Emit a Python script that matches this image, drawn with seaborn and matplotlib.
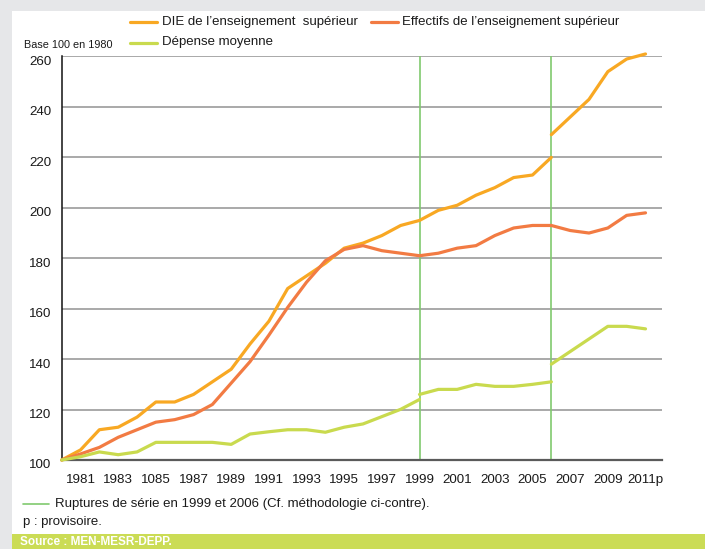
import matplotlib
matplotlib.use("Agg")
import matplotlib.pyplot as plt
from matplotlib.lines import Line2D
from matplotlib.patches import Rectangle
from matplotlib.transforms import ScaledTranslation
import seaborn as sns
import pandas as pd

# ---------------- data ----------------
years_die_1 = list(range(1980, 2007))
die_1 = [100, 104, 112, 113, 117, 123, 123, 126, 131, 136, 146, 155, 168, 173,
         178, 184, 186, 189, 193, 195, 199, 201, 205, 208, 212, 213, 220]
years_die_2 = list(range(2006, 2012))
die_2 = [229, 236, 243, 254, 259, 261]

years_eff = list(range(1980, 2012))
eff = [100, 102.4, 105, 109, 112, 115, 116, 118, 122, 130.5, 139, 149.5, 160.5,
       170.5, 179, 183.5, 185, 183, 182, 181, 182, 184, 185, 189, 192, 193, 193,
       191, 190, 192, 197, 198]

years_dep_1 = list(range(1980, 2000))
dep_1 = [100, 101.3, 103.2, 102.1, 103.2, 107, 107, 107, 107, 106.2, 110.3,
         111.2, 112, 112, 111, 113, 114.3, 117.2, 120.1, 124]
years_dep_2 = list(range(1999, 2007))
dep_2 = [126, 128, 128, 130, 129.2, 129.2, 130, 131]
years_dep_3 = list(range(2006, 2012))
dep_3 = [138, 143, 148, 153, 153, 152]

breaks = [1999, 2006]
tick_years = list(range(1981, 2012))
tick_labels = ["1981", "", "1983", "", "1085", "", "1987", "", "1989", "",
               "1991", "", "1993", "", "1995", "", "1997", "", "1999", "",
               "2001", "", "2003", "", "2005", "", "2007", "", "2009", "",
               "2011p"]
yticks = [100, 120, 140, 160, 180, 200, 220, 240, 260]

lab_die = "DIE de l\u2019enseignement  supérieur"
lab_eff = "Effectifs de l\u2019enseignement supérieur"
lab_dep = "Dépense moyenne"

# ---------------- frame ----------------
rows = []
def add(series, seg, ys, vs):
    for y, v in zip(ys, vs):
        rows.append({"year": y, "value": v, "series": series, "segment": seg})

add(lab_die, "die1", years_die_1, die_1)
add(lab_die, "die2", years_die_2, die_2)
add(lab_eff, "eff", years_eff, eff)
add(lab_dep, "dep1", years_dep_1, dep_1)
add(lab_dep, "dep2", years_dep_2, dep_2)
add(lab_dep, "dep3", years_dep_3, dep_3)
df = pd.DataFrame(rows)

C_DIE = "#F8A823"
C_EFF = "#F27B43"
C_DEP = "#C9DA4E"
C_BRK = "#80C96E"
C_BAND = "#CBDC55"
TXT = "#1a1a1a"
palette = {lab_die: C_DIE, lab_eff: C_EFF, lab_dep: C_DEP}

sns.set_style("white")
plt.rcParams["font.family"] = ["Liberation Sans Narrow", "Liberation Sans", "DejaVu Sans"]

W, H = 705, 549
fig = plt.figure(figsize=(W / 100, H / 100), dpi=100, facecolor="#E6E7E9")

def fx(x):
    return x / W

def fy(y):
    return 1 - y / H

# white panel & green band
fig.add_artist(Rectangle((fx(12), fy(534)), 1 - fx(12), fy(10.7) - fy(534),
                         transform=fig.transFigure, facecolor="white",
                         edgecolor="none", zorder=0))
fig.add_artist(Rectangle((fx(12), 0), 1 - fx(12), fy(534),
                         transform=fig.transFigure, facecolor=C_BAND,
                         edgecolor="none", zorder=0))

ax = fig.add_axes([fx(61.7), fy(460), (661.7 - 61.7) / W, (460 - 56.5) / H])
ax.set_facecolor("none")

for b in breaks:
    ax.axvline(b, color=C_BRK, lw=1.2, zorder=1)

sns.lineplot(data=df, x="year", y="value", hue="series", units="segment",
             estimator=None, palette=palette, linewidth=2.3, legend=False,
             ax=ax, zorder=3)
for ln in ax.get_lines():
    if ln.get_linewidth() > 2:
        ln.set_clip_on(False)

ax.set_xlim(1980, 2011.86)
ax.set_ylim(100, 260)
ax.set_xlabel("")
ax.set_ylabel("")

ax.set_yticks(yticks)
ax.set_yticklabels([str(v) for v in yticks])
ax.set_xticks(tick_years)
ax.set_xticklabels(tick_labels)

ax.yaxis.grid(True, color="#A3A3A3", linewidth=1.3, zorder=0)
ax.xaxis.grid(False)
ax.set_axisbelow(True)

ax.tick_params(axis="y", length=0, pad=7.5, labelsize=9.6, labelcolor=TXT)
ax.tick_params(axis="x", direction="out", length=6.8, width=1.1,
               color="#404040", pad=3.5, labelsize=9.6, labelcolor=TXT)

down = ScaledTranslation(0, -4 / 100, fig.dpi_scale_trans)
for lbl in ax.get_yticklabels():
    lbl.set_transform(lbl.get_transform() + down)

for s in ["top", "right"]:
    ax.spines[s].set_visible(False)
ax.spines["left"].set_color("#111111")
ax.spines["left"].set_linewidth(1.1)
ax.spines["bottom"].set_color("#5a5a5a")
ax.spines["bottom"].set_linewidth(1.6)

# ---------------- legend ----------------
def leg(x0, y, color, text):
    fig.add_artist(Line2D([fx(x0), fx(x0 + 27)], [fy(y), fy(y)],
                          transform=fig.transFigure, color=color, lw=2.3))
    fig.text(fx(x0 + 32), fy(y), text, ha="left", va="center", fontsize=9.5,
             color=TXT)

leg(130, 22, C_DIE, lab_die)
leg(370.5, 22, C_EFF, lab_eff)
leg(130, 42.5, C_DEP, lab_dep)

fig.text(fx(24), fy(44.5), "Base 100 en 1980", ha="left", va="center",
         fontsize=7.8, color=TXT)

# ---------------- notes ----------------
fig.add_artist(Line2D([fx(23), fx(49)], [fy(503.5), fy(503.5)],
                      transform=fig.transFigure, color=C_BRK, lw=1.2))
fig.text(fx(55), fy(503.5),
         "Ruptures de série en 1999 et 2006 (Cf. méthodologie ci-contre).",
         ha="left", va="center", fontsize=9.5, color=TXT)
fig.text(fx(23), fy(521.5), "p : provisoire.", ha="left", va="center",
         fontsize=9.5, color=TXT)
fig.text(fx(20.5), fy(541.8), "Source : MEN-MESR-DEPP.", ha="left",
         va="center", fontsize=8.5, color="white", fontweight="bold")

fig.savefig("out.png", dpi=100, facecolor=fig.get_facecolor())
